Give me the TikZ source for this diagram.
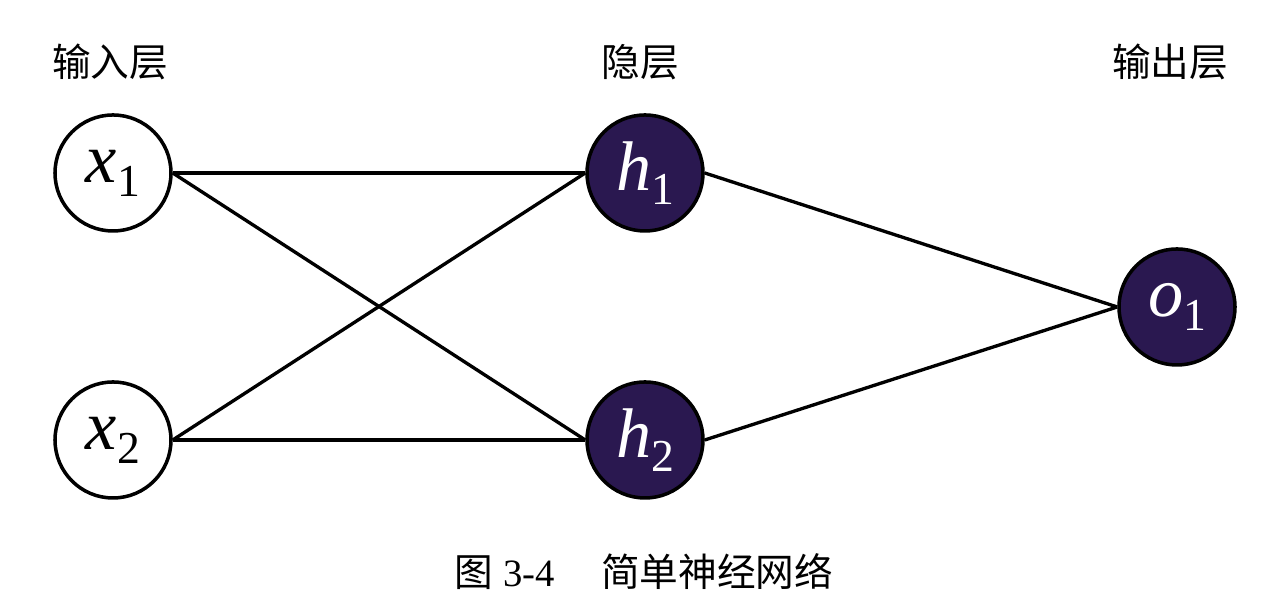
\documentclass[tikz,border=0pt]{standalone}
\usepackage{fontspec}
\setmainfont{Liberation Serif}
\newfontfamily\cjk{Noto Sans CJK SC}
\usepackage{tikz}
\definecolor{hidfill}{RGB}{42,24,80}

\newcommand{\unitlabel}[2]{{\fontsize{20}{20}\selectfont\itshape #1}\raisebox{-0.14cm}{\fontsize{13}{13}\selectfont #2}}

\begin{document}
\begin{tikzpicture}[
    inp/.style={circle, draw, line width=1pt, minimum size=1.16cm, inner sep=0pt},
    hid/.style={inp, fill=hidfill, text=white},
    layer/.style={font=\cjk\fontsize{11}{11}\selectfont},
    edge/.style={line width=0.95pt}]
            \useasboundingbox (0,0) rectangle (12.84,6.16);
            \node[layer] (tin) at (1.10,5.54) {输入层};
            \node[layer] (thid) at (6.40,5.54) {隐层};
            \node[layer] (tout) at (11.70,5.54) {输出层};

            \node[inp] (x1) at (1.13,4.43) {\unitlabel{x}{1}};
            \node[inp] (x2) at (1.13,1.76) {\unitlabel{x}{2}};
            \node[hid] (h1) at (6.45,4.43) {\unitlabel{h}{1}};
            \node[hid] (h2) at (6.45,1.76) {\unitlabel{h}{2}};
            \node[hid] (o1) at (11.77,3.09) {\unitlabel{o}{1}};

            \draw[edge] (x1.east) -- (h1.west);
            \draw[edge] (x1.east) -- (h2.west);
            \draw[edge] (x2.east) -- (h1.west);
            \draw[edge] (x2.east) -- (h2.west);
            \draw[edge] (h1.east) -- (o1.west);
            \draw[edge] (h2.east) -- (o1.west);

            \node[font=\fontsize{11}{11}\selectfont] (cap) at (6.44,0.44) {{\cjk 图} 3-4\hspace{1.2em}{\cjk 简单神经网络}};
        \end{tikzpicture}
\end{document}
